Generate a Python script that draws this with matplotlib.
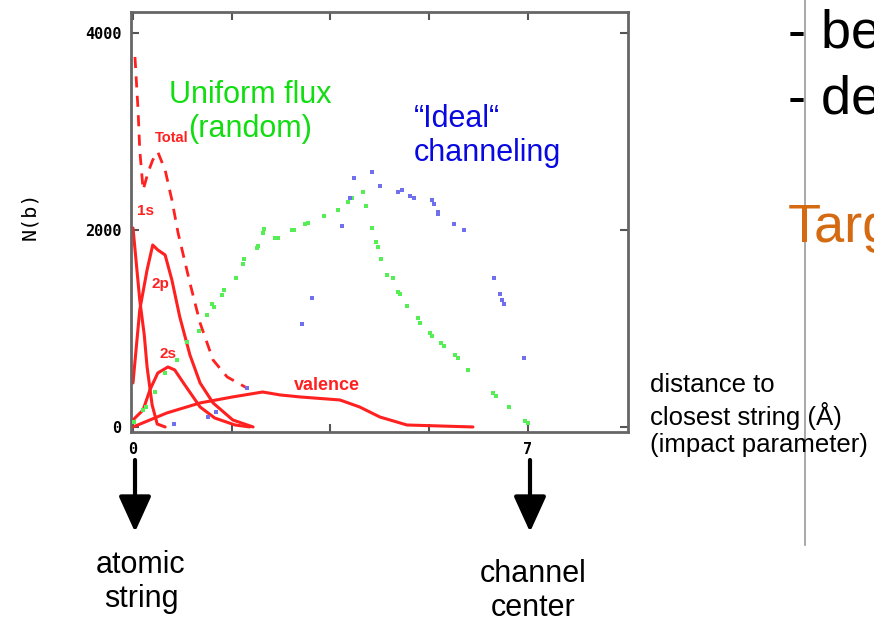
import matplotlib
matplotlib.use("Agg")
import matplotlib.pyplot as plt

# --- data (x in Å, y = N(b)) ---
total_x = [0.035, 0.09, 0.12, 0.18, 0.27, 0.35, 0.44, 0.57, 0.69, 0.80, 1.01, 1.19, 1.42, 1.67, 2.02]
total_y = [3756, 3218, 2812, 2406, 2588, 2710, 2791, 2609, 2304, 1969, 1462, 1056, 680, 508, 396]

s1_x = [0.0, 0.07, 0.12, 0.20, 0.25, 0.34, 0.43, 0.57]
s1_y = [2020, 1594, 1289, 934, 609, 223, 30, 0]

p2_x = [0.0, 0.12, 0.25, 0.35, 0.44, 0.57, 0.69, 0.83, 1.01, 1.19, 1.42, 1.77, 2.13]
p2_y = [447, 1188, 1594, 1847, 1797, 1746, 1492, 1117, 731, 447, 244, 71, 0]

s2_x = [0.0, 0.18, 0.30, 0.44, 0.62, 0.74, 0.92, 1.19, 1.45, 1.81, 2.07]
s2_y = [71, 173, 376, 548, 609, 579, 426, 203, 91, 20, 0]

val_x = [0.0, 0.6, 1.19, 1.77, 2.30, 2.61, 2.96, 3.67, 4.02, 4.38, 4.86, 6.03]
val_y = [0, 142, 244, 305, 355, 325, 305, 274, 203, 101, 20, 0]

uniform_x = [0.02, 0.18, 0.23, 0.39, 0.57, 0.78, 0.96, 1.17, 1.31, 1.40, 1.44, 1.58, 1.61,
             1.83, 1.95, 1.97, 2.20, 2.22, 2.30, 2.32, 2.52, 2.57, 2.82, 2.85, 3.05, 3.10,
             3.39, 3.63, 3.81, 3.88, 4.08, 4.13, 4.24, 4.31, 4.34, 4.40, 4.50, 4.61, 4.70,
             4.73, 4.86, 5.05, 5.09, 5.27, 5.30, 5.46, 5.51, 5.71, 5.76, 5.94, 6.38, 6.44,
             6.67, 6.95, 7.00]
uniform_y = [51, 173, 203, 355, 548, 680, 863, 974, 1137, 1248, 1218, 1340, 1391,
             1512, 1654, 1705, 1817, 1837, 1969, 2010, 1918, 1918, 2000, 2000, 2060, 2071,
             2142, 2203, 2284, 2324, 2385, 2243, 2020, 1878, 1827, 1705, 1543, 1512, 1370,
             1350, 1228, 1106, 1056, 954, 924, 853, 822, 731, 700, 579, 345, 315,
             203, 61, 41]

ideal_x = [0.73, 1.33, 1.47, 2.02, 3.00, 3.17, 3.71, 3.85, 3.92, 4.24, 4.38, 4.70, 4.77,
           4.91, 4.98, 5.30, 5.34, 5.41, 5.41, 5.69, 5.87, 6.40, 6.51, 6.54, 6.58, 6.93]
ideal_y = [30, 102, 152, 396, 1045, 1309, 2040, 2324, 2527, 2588, 2446, 2385, 2405,
           2345, 2324, 2304, 2263, 2182, 2162, 2060, 2000, 1512, 1350, 1289, 1248, 700]

RED = "#ff2020"
SANS = "Liberation Sans"

fig = plt.figure(figsize=(8.74, 6.23), dpi=100)
ax = fig.add_axes([0.1499, 0.3066, 0.5686, 0.6741])

ax.plot(total_x, total_y, color=RED, lw=2, ls=(0, (4, 3)))
for xs, ys in [(s1_x, s1_y), (p2_x, p2_y), (s2_x, s2_y), (val_x, val_y)]:
    ax.plot(xs, ys, color=RED, lw=2.2, solid_capstyle="round", solid_joinstyle="round")
ax.scatter(uniform_x, uniform_y, s=5, marker="s", color="#55ee55", linewidths=0, zorder=3)
ax.scatter(ideal_x, ideal_y, s=5, marker="s", color="#7070ee", linewidths=0, zorder=3)

# curve labels
for txt, x, y, fs in [("Total", 0.69, 2933, 10.5), ("1s", 0.23, 2192, 11),
                      ("2p", 0.48, 1451, 11), ("2s", 0.62, 741, 11),
                      ("valence", 3.44, 416, 13)]:
    ax.text(x, y, txt, color=RED, fontsize=fs, fontweight="bold", family=SANS,
            ha="center", va="center")

ax.set_xlim(-0.035, 8.78)
ax.set_ylim(-51, 4212)
ax.set_xticks([0, 7])
ax.set_xticklabels(["0", "7"])
ax.set_xticks([1.75, 3.5, 5.25], minor=True)
ax.set_yticks([0, 2000, 4000])
ax.set_yticklabels(["0", "2000", "4000"])
ax.tick_params(axis="both", which="both", direction="in", top=True, right=True,
               length=6, width=1.5, color="#555555")
ax.tick_params(axis="both", labelsize=11, pad=7)
for lab in ax.get_xticklabels() + ax.get_yticklabels():
    lab.set_family("DejaVu Sans Mono")
    lab.set_fontweight("bold")
for sp in ax.spines.values():
    sp.set_color("#666666")
    sp.set_linewidth(2)

fig.text(30 / 874, 1 - 216 / 623, "N(b)", rotation=90, fontsize=14.5,
         family="DejaVu Sans Mono", ha="center", va="center")

# annotations on the slide
fig.text(250 / 874, 1 - 112 / 623, "Uniform flux\n(random)", color="#11dd11", fontsize=22,
         family=SANS, ha="center", va="center", multialignment="center")
fig.text(414 / 874, 1 - 136 / 623, "\u201cIdeal\u201c\nchanneling", color="#0808e0",
         fontsize=22, family=SANS, ha="left", va="center")

fig.text(650 / 874, 1 - 373 / 623, "distance to\nclosest string (\u00c5)\n(impact parameter)",
         fontsize=18.5, family=SANS, ha="left", va="top")

fig.text(788 / 874, 1 - 47 / 623, "- be", fontsize=39, family=SANS, va="baseline")
fig.text(788 / 874, 1 - 113 / 623, "- de", fontsize=39, family=SANS, va="baseline")
fig.text(788 / 874, 1 - 242 / 623, "Targ", fontsize=39, family=SANS, va="baseline",
         color="#d46b12")

fig.add_artist(plt.Line2D([805 / 874, 805 / 874], [1 - 545 / 623, 1], color="#999999",
                          lw=1.2, transform=fig.transFigure))

for x in (135, 530):
    ax.annotate("", xy=(x, 623 - 532), xytext=(x, 623 - 460), xycoords="figure pixels",
                textcoords="figure pixels", annotation_clip=False,
                arrowprops=dict(arrowstyle="-|>,head_length=1.1,head_width=0.5",
                                mutation_scale=20, lw=3, color="black",
                                shrinkA=0, shrinkB=0))

fig.text(141 / 874, 1 - 582 / 623, "atomic\nstring", fontsize=22, family=SANS,
         ha="center", va="center", multialignment="center")
fig.text(533 / 874, 1 - 591 / 623, "channel\ncenter", fontsize=22, family=SANS,
         ha="center", va="center", multialignment="center")

fig.savefig("out.png", dpi=100)
